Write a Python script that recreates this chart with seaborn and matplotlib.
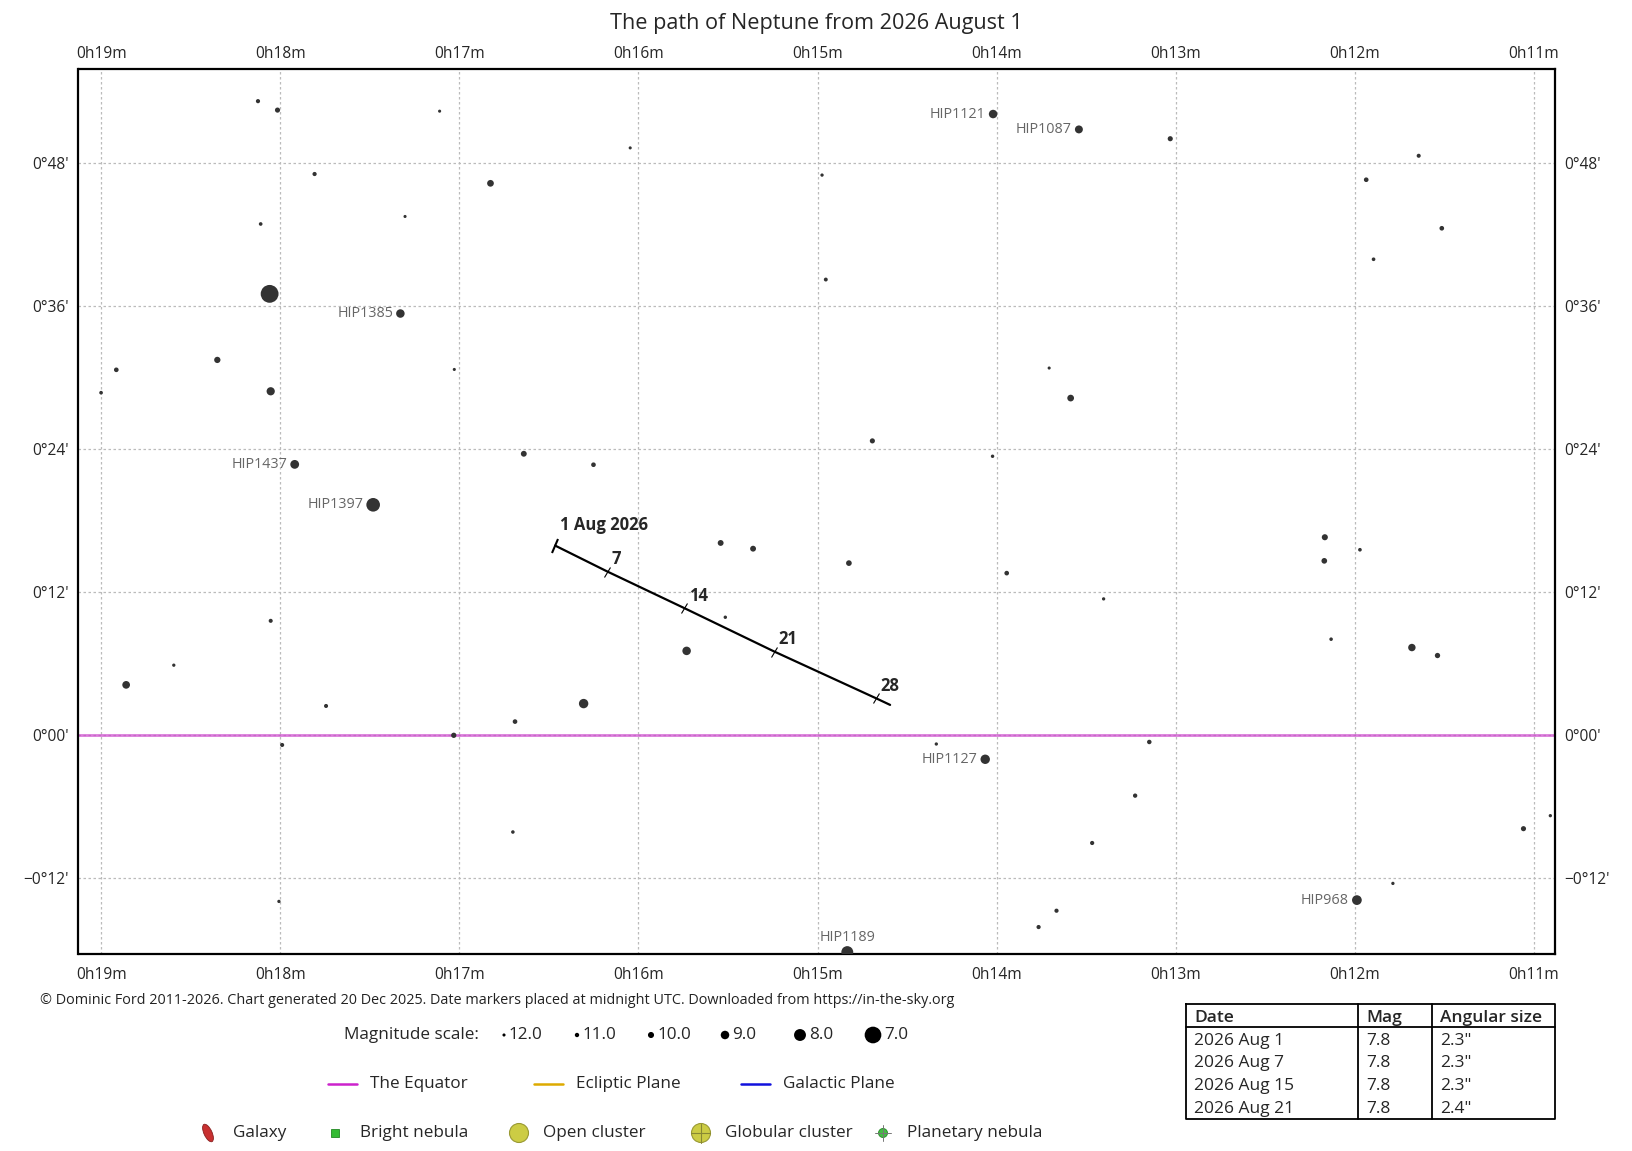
import numpy as np
import pandas as pd
import seaborn as sns
import matplotlib.pyplot as plt
from matplotlib.markers import MarkerStyle
from matplotlib.transforms import Affine2D
from matplotlib.patches import Ellipse, Rectangle, Circle

# ---- data (RA in minutes of 0h, Dec in arcminutes) ----
star_ra = [18.124, 18.015, 17.110, 16.046, 17.808, 16.826, 17.303, 18.109, 18.059, 17.329,
           18.351, 18.915, 19.000, 18.053, 17.028, 17.919, 16.640, 16.251, 17.481, 15.541,
           15.360,
           14.975, 14.954, 14.020, 13.541, 13.031, 11.644, 11.937, 11.515, 11.896, 13.707,
           13.587, 14.694, 14.023, 12.168, 11.972,
           18.053, 18.594, 18.860, 17.744, 16.306, 16.689, 17.031, 17.989, 16.701, 18.007,
           15.515, 15.731,
           14.825, 13.944, 13.403, 12.171, 12.133, 11.682, 11.539, 14.337, 13.148, 14.064,
           13.227, 13.467, 11.059, 10.909, 11.788, 11.989, 13.666, 13.766, 14.834]
star_dec = [53.15, 52.40, 52.31, 49.23, 47.04, 46.26, 43.48, 42.85, 36.99, 35.34,
            31.45, 30.62, 28.70, 28.82, 30.65, 22.69, 23.58, 22.66, 19.30, 16.10,
            15.62,
            46.95, 38.19, 52.07, 50.78, 50.00, 48.57, 46.56, 42.49, 39.89, 30.77,
            28.25, 24.66, 23.37, 16.58, 15.53,
            9.57, 5.85, 4.20, 2.43, 2.63, 1.12, -0.03, -0.84, -8.14, -13.96,
            9.87, 7.05,
            14.41, 13.57, 11.41, 14.60, 8.03, 7.33, 6.66, -0.76, -0.59, -2.04,
            -5.09, -9.06, -7.86, -6.77, -12.45, -13.85, -14.74, -16.11, -18.21]
star_mag = [11.1, 10.5, 12.0, 12.0, 11.1, 9.7, 12.0, 11.5, 6.8, 9.0,
            9.9, 10.8, 11.5, 9.1, 12.0, 8.9, 10.1, 10.8, 7.6, 10.1,
            10.1,
            11.8, 11.3, 9.0, 9.2, 10.5, 11.2, 10.8, 10.8, 11.5, 12.0,
            9.7, 10.5, 11.7, 10.0, 11.5,
            11.2, 11.8, 9.3, 11.2, 8.7, 10.8, 10.4, 11.2, 11.6, 11.8,
            11.7, 9.0,
            10.2, 10.8, 11.8, 10.2, 11.6, 9.4, 10.4, 11.8, 10.9, 8.7,
            11.0, 11.1, 10.5, 11.8, 11.8, 8.6, 11.1, 11.1, 8.0]
star_name = ['', '', '', '', '', '', '', '', '', 'HIP1385',
             '', '', '', '', '', 'HIP1437', '', '', 'HIP1397', '',
             '',
             '', '', 'HIP1121', 'HIP1087', '', '', '', '', '', '',
             '', '', '', '', '',
             '', '', '', '', '', '', '', '', '', '',
             '', '',
             '', '', '', '', '', '', '', '', '', 'HIP1127',
             '', '', '', '', '', 'HIP968', '', '', 'HIP1189']
label_above = ['HIP1189']

# Neptune path: start, Aug 7, 14, 21, 28, end
path_ra = [16.465, 16.173, 15.743, 15.241, 14.674, 14.595]
path_dec = [15.88, 13.70, 10.63, 6.99, 3.08, 2.52]
tick_labels = ['7', '14', '21', '28']
start_label = '1 Aug 2026'

ra_ticks = [19, 18, 17, 16, 15, 14, 13, 12, 11]
ra_labels = ['0h19m', '0h18m', '0h17m', '0h16m', '0h15m', '0h14m', '0h13m', '0h12m', '0h11m']
dec_ticks = [48, 36, 24, 12, 0, -12]
dec_labels = ["0°48'", "0°36'", "0°24'", "0°12'", "0°00'", "−0°12'"]

mag_scale = [12.0, 11.0, 10.0, 9.0, 8.0, 7.0]

table_dates = ['2026 Aug 1', '2026 Aug 7', '2026 Aug 15', '2026 Aug 21']
table_mag = ['7.8', '7.8', '7.8', '7.8']
table_size = ['2.3"', '2.3"', '2.3"', '2.4"']


def star_area(m):
    d = 3.1 * 1.4 ** (12 - np.asarray(m, dtype=float))  # diameter in px
    return (d * 0.72) ** 2


W, H = 1633, 1151
sns.set_style('white')
plt.rcParams['font.family'] = ['Open Sans', 'DejaVu Sans']

fig = plt.figure(figsize=(W / 100, H / 100), dpi=100)

# overlay in pixel coordinates for the footer
fx = fig.add_axes([0, 0, 1, 1], zorder=-1)
fx.set_xlim(0, W)
fx.set_ylim(H, 0)
fx.axis('off')

ax = fig.add_axes([78.5 / W, 1 - 954 / H, (1555 - 78.5) / W, (954 - 68.6) / H])
ax.set_xlim(19.126, 10.883)
ax.set_ylim(-18.37, 55.88)

df = pd.DataFrame({'ra': star_ra, 'dec': star_dec, 'mag': star_mag, 'name': star_name})
df['area'] = star_area(df['mag'])
amin, amax = df['area'].min(), df['area'].max()
sns.scatterplot(data=df, x='ra', y='dec', size='area', sizes=(amin, amax),
                size_norm=(amin, amax), color='#333333', linewidth=0,
                legend=False, ax=ax, zorder=3)

for _, r in df[df['name'] != ''].iterrows():
    rad = 3.1 * 1.4 ** (12 - r['mag']) / 2
    if r['name'] in label_above:
        ax.annotate(r['name'], (r['ra'], r['dec']), xytext=(0, 10.3),
                    textcoords='offset points', ha='center', va='center',
                    fontsize=10.4, color='#666666', zorder=4)
    else:
        ax.annotate(r['name'], (r['ra'], r['dec']), xytext=(-(rad + 3) * 0.72, 0),
                    textcoords='offset points', ha='right', va='center',
                    fontsize=10.4, color='#666666', zorder=4)

# equator
ax.axhline(0, color='#cc44cc', lw=2, alpha=0.7, zorder=1)

# path
sns.lineplot(x=path_ra, y=path_dec, sort=False, color='black', lw=1.6, ax=ax, zorder=5)
p0 = ax.transData.transform((path_ra[0], path_dec[0]))
p1 = ax.transData.transform((path_ra[-1], path_dec[-1]))
ang = np.degrees(np.arctan2(p1[1] - p0[1], p1[0] - p0[0]))
bar = MarkerStyle('|', transform=Affine2D().rotate_deg(ang))
ax.plot(path_ra[0], path_dec[0], marker=bar, ms=11.5, mew=1.5, color='black', zorder=5)
ax.plot(path_ra[1:5], path_dec[1:5], ls='none', marker=bar, ms=8.6, mew=0.8, color='black', zorder=5)
ax.annotate(start_label, (path_ra[0], path_dec[0]), xytext=(3.6, 11.5), textcoords='offset points',
            ha='left', va='baseline', fontsize=12, fontweight='bold', zorder=6)
for lab, x, y in zip(tick_labels, path_ra[1:5], path_dec[1:5]):
    ax.annotate(lab, (x, y), xytext=(3, 5.3), textcoords='offset points',
                ha='left', va='baseline', fontsize=12, fontweight='bold', zorder=6)

# axes styling
ax.set_xticks(ra_ticks)
ax.set_xticklabels(ra_labels)
ax.set_yticks(dec_ticks)
ax.set_yticklabels(dec_labels)
ax.set_xlabel('')
ax.set_ylabel('')
ax.tick_params(axis='y', length=0, labelsize=11.2, pad=7, right=True, labelright=True)
ax.tick_params(axis='x', length=0, labelsize=11.2, pad=9.7)
ax.grid(True, color='#bbbbbb', linestyle=(0, (2, 2)), lw=0.9, zorder=0)
ax.set_axisbelow(True)
for s in ax.spines.values():
    s.set_visible(True)
    s.set_linewidth(1.6)
    s.set_color('black')

# RA labels along the top, a bit closer to the frame
top = ax.secondary_xaxis('top')
top.set_xticks(ra_ticks)
top.set_xticklabels(ra_labels)
top.tick_params(length=0, labelsize=11.2, pad=4.8)
top.spines['top'].set_visible(False)

fig.text(0.5, 1 - 23 / H, 'The path of Neptune from 2026 August 1', ha='center', va='center', fontsize=15.6)

# ---- footer ----
fx.text(39.6, 1000, '© Dominic Ford 2011-2026. Chart generated 20 Dec 2025. Date markers placed at midnight UTC. '
        'Downloaded from https://in-the-sky.org', ha='left', va='center', fontsize=10.4, color='#222222')

ym = 1035
fx.text(344, ym, 'Magnitude scale:', ha='left', va='center', fontsize=12.3)
mag_x = [504, 577, 651, 725, 800, 873]
fx.scatter(mag_x, [ym] * len(mag_scale), s=star_area(mag_scale), color='black', linewidth=0)
for m, x in zip(mag_scale, mag_x):
    d = 3.1 * 1.4 ** (12 - m)
    fx.text(x + d / 2 + 3, ym, f'{m:.1f}', ha='left', va='center', fontsize=12.3)

yl = 1084
line_items = [('The Equator', '#cc22cc', 328), ('Ecliptic Plane', '#ddaa00', 534), ('Galactic Plane', '#1111dd', 741)]
for lab, col, x in line_items:
    fx.plot([x, x + 29], [yl, yl], color=col, lw=1.8)
    fx.text(x + 42, yl, lab, ha='left', va='center', fontsize=12.3)

yo = 1133
fx.add_patch(Ellipse((208, yo), 8, 19, angle=-25, facecolor='#c83030', edgecolor='#882020', lw=0.6))
fx.text(233, yo, 'Galaxy', ha='left', va='center', fontsize=12.3)
fx.add_patch(Rectangle((335 - 4, yo - 4), 8, 8, facecolor='#33bb33', edgecolor='#228822', lw=0.6))
fx.text(360, yo, 'Bright nebula', ha='left', va='center', fontsize=12.3)
fx.add_patch(Circle((519, yo), 9.5, facecolor='#cccc44', edgecolor='#999933', lw=0.8))
fx.text(543, yo, 'Open cluster', ha='left', va='center', fontsize=12.3)
fx.add_patch(Circle((701, yo), 9.5, facecolor='#cccc44', edgecolor='#999933', lw=0.8))
fx.plot([701 - 9.5, 701 + 9.5], [yo, yo], color='#888833', lw=0.8)
fx.plot([701, 701], [yo - 9.5, yo + 9.5], color='#888833', lw=0.8)
fx.text(725, yo, 'Globular cluster', ha='left', va='center', fontsize=12.3)
fx.add_patch(Circle((883, yo), 4.5, facecolor='#44bb44', edgecolor='#228822', lw=0.6))
fx.plot([883 - 8, 883 + 8], [yo, yo], color='#777777', lw=0.7)
fx.plot([883, 883], [yo - 8, yo + 8], color='#777777', lw=0.7)
fx.text(907, yo, 'Planetary nebula', ha='left', va='center', fontsize=12.3)

# table
tl, tr, tt, tb = 1186, 1555, 1004, 1119
col_x = [1358.3, 1432.3]
head_b = 1027.3
fx.plot([tl, tr, tr, tl, tl], [tt, tt, tb, tb, tt], color='black', lw=1.3)
fx.plot([tl, tr], [head_b, head_b], color='black', lw=1.3)
for cx in col_x:
    fx.plot([cx, cx], [tt, tb], color='black', lw=1.3)
text_x = [tl + 8, col_x[0] + 8, col_x[1] + 8]
for tx, h in zip(text_x, ['Date', 'Mag', 'Angular size']):
    fx.text(tx, 1022, h, ha='left', va='baseline', fontsize=12.5, fontweight='semibold')
row_y = [1045, 1067.3, 1090, 1112.7]
for ry, dte, mg, sz in zip(row_y, table_dates, table_mag, table_size):
    fx.text(text_x[0], ry, dte, ha='left', va='baseline', fontsize=12.5)
    fx.text(text_x[1], ry, mg, ha='left', va='baseline', fontsize=12.5)
    fx.text(text_x[2], ry, sz, ha='left', va='baseline', fontsize=12.5)

fig.savefig('out.png', dpi=100)
